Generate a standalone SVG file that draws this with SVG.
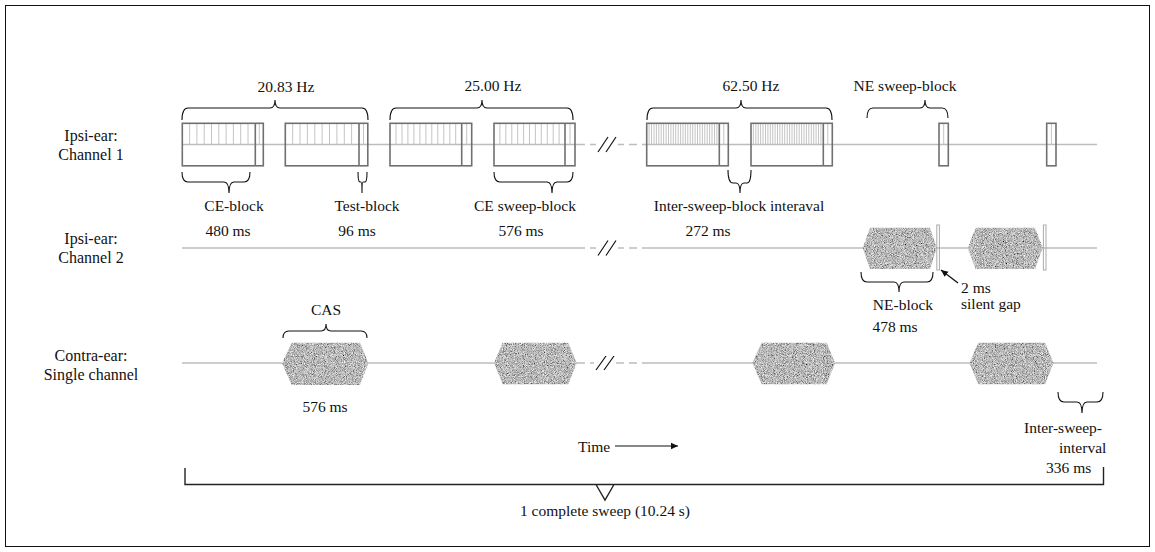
<svg xmlns="http://www.w3.org/2000/svg" width="1155" height="552" viewBox="0 0 1155 552">
<style>
text{font-family:"Liberation Serif","Times New Roman",serif;font-size:15.5px;fill:#111}
.lab{font-size:16px;text-anchor:middle}
.c{text-anchor:middle}
.ch{stroke:#bdbdbd;stroke-width:1.6;fill:none}
.dash{stroke:#bdbdbd;stroke-width:1.6;fill:none;stroke-dasharray:8 5}
.blk{fill:none;stroke:#707070;stroke-width:1.6}
.tk{stroke:#bdbdbd;stroke-width:0.9;fill:none}
.br{fill:none;stroke:#111;stroke-width:1.1}
.sl{stroke:#111;stroke-width:1.2}
.gap{fill:none;stroke:#aaa;stroke-width:1}
.hex{fill:#000;filter:url(#noise)}
</style>
<defs>
<filter id="noise" x="0" y="0" width="1" height="1">
<feTurbulence type="fractalNoise" baseFrequency="1.1" numOctaves="2" seed="4" result="t"/>
<feColorMatrix in="t" type="matrix" values="1.3 0 0 0 -0.17  1.3 0 0 0 -0.17  1.3 0 0 0 -0.17  0 0 0 0 1" result="g"/>
<feComposite in="g" in2="SourceGraphic" operator="in"/>
</filter>
<marker id="ah" markerWidth="8" markerHeight="8" refX="7" refY="4" orient="auto" markerUnits="userSpaceOnUse">
<path d="M0,0.8 L7,4 L0,7.2 z" fill="#111"/>
</marker>
</defs>
<rect x="5.5" y="5.5" width="1144" height="541" fill="#fff" stroke="#111" stroke-width="1"/>

<g id="labels">
<text class="lab" x="91" y="141">Ipsi-ear:</text>
<text class="lab" x="91" y="160">Channel 1</text>
<text class="lab" x="91" y="244">Ipsi-ear:</text>
<text class="lab" x="91" y="263">Channel 2</text>
<text class="lab" x="91" y="361">Contra-ear:</text>
<text class="lab" x="91" y="380">Single channel</text>
</g>

<g id="connectors">
<path class="ch" d="M182 144.5 H577 M647 144.5 H1097"/>
<path class="dash" d="M577 144.5 H647"/>
<path class="ch" d="M182 248 H577 M647 248 H1097"/>
<path class="dash" d="M577 248 H647"/>
<path class="ch" d="M182 363 H577 M647 363 H1097"/>
<path class="dash" d="M577 363 H647"/>
<rect x="596" y="135" width="22" height="20" fill="#fff"/>
<rect x="596" y="239" width="22" height="20" fill="#fff"/>
<rect x="594" y="354" width="22" height="20" fill="#fff"/>
<path class="sl" d="M598 152 L608 137 M606 152 L616 137"/>
<path class="sl" d="M598 255.5 L608 240.5 M606 255.5 L616 240.5"/>
<path class="sl" d="M596 370 L606 356 M604 370 L614 356"/>
<path class="br" d="M182 120 Q182 108 188 108 H270 Q275 108 275 100 Q275 108 280 108 H362 Q368 108 368 120"/>
<path class="br" d="M390 120 Q390 108 396 108 H477 Q482 108 482 100 Q482 108 487 108 H567 Q573 108 573 120"/>
<path class="br" d="M647 120 Q647 108 653 108 H736 Q741 108 741 100 Q741 108 746 108 H826 Q832 108 832 120"/>
<path class="br" d="M867 118 Q867 108 873 108 H920 Q925 108 925 100 Q925 108 930 108 H942 Q948 108 948 118"/>
<path class="br" d="M283 338 Q283 331 289 331 H321 Q326 331 326 324 Q326 331 331 331 H361 Q367 331 367 338"/>
<path class="br" d="M182 172 Q182 182 188 182 H224 Q229 182 229 193 Q229 182 234 182 H244 Q250 182 250 172"/>
<path class="br" d="M358 172 Q358 182 360 182 H361 Q362 182 362 193 Q362 182 363 182 H365 Q367 182 367 172"/>
<path class="br" d="M494 172 Q494 182 500 182 H547 Q552 182 552 193 Q552 182 557 182 H567 Q573 182 573 172"/>
<path class="br" d="M728 170 Q728 183 733 183 H736 Q740 183 740 193 Q740 183 744 183 H747 Q751 183 751 170"/>
<path class="br" d="M861 272 Q861 282 867 282 H894 Q899 282 899 292 Q899 282 904 282 H927 Q933 282 933 272"/>
<path class="br" d="M1058 392 Q1058 402 1064 402 H1077 Q1082 402 1082 413 Q1082 402 1087 402 H1097 Q1103 402 1103 392"/>
<line x1="958" y1="283" x2="941" y2="270" stroke="#111" stroke-width="1.3" marker-end="url(#ah)"/>
<line x1="615" y1="446" x2="678" y2="446" stroke="#111" stroke-width="1.1" marker-end="url(#ah)"/>
<path fill="none" stroke="#222" stroke-width="1.4" d="M185 468 V484.5 H1103.5 V467 M596 484.5 L605 500 L614 484.5"/>
</g>

<g id="ch1-blocks">
<path class="tk" d="M189.6 123.5V144M196.9 123.5V144M204.2 123.5V144M211.5 123.5V144M218.8 123.5V144M226.1 123.5V144M233.4 123.5V144M240.7 123.5V144M248 123.5V144M259.3 123.5V144
M292.7 123.5V144M300 123.5V144M307.4 123.5V144M314.8 123.5V144M322.1 123.5V144M329.5 123.5V144M336.9 123.5V144M344.3 123.5V144M351.6 123.5V144M363.5 123.5V144
M396 123.5V144M402 123.5V144M407.9 123.5V144M413.9 123.5V144M419.9 123.5V144M425.9 123.5V144M431.8 123.5V144M437.8 123.5V144M443.8 123.5V144M449.8 123.5V144M455.7 123.5V144M466.7 123.5V144
M499.9 123.5V144M505.8 123.5V144M511.8 123.5V144M517.7 123.5V144M523.6 123.5V144M529.5 123.5V144M535.4 123.5V144M541.3 123.5V144M547.3 123.5V144M553.2 123.5V144M559.1 123.5V144M570 123.5V144
M649.1 123.5V144M651.5 123.5V144M654 123.5V144M656.4 123.5V144M658.8 123.5V144M661.2 123.5V144M663.6 123.5V144M666.1 123.5V144M668.5 123.5V144M670.9 123.5V144M673.3 123.5V144M675.7 123.5V144M678.2 123.5V144M680.6 123.5V144M683 123.5V144M685.4 123.5V144M687.8 123.5V144M690.3 123.5V144M692.7 123.5V144M695.1 123.5V144M697.5 123.5V144M699.9 123.5V144M702.4 123.5V144M704.8 123.5V144M707.2 123.5V144M709.6 123.5V144M712 123.5V144M714.5 123.5V144M716.9 123.5V144M723.8 123.5V144
M753.4 123.5V144M755.8 123.5V144M758.2 123.5V144M760.6 123.5V144M763 123.5V144M765.5 123.5V144M767.9 123.5V144M770.3 123.5V144M772.7 123.5V144M775.1 123.5V144M777.5 123.5V144M779.9 123.5V144M782.3 123.5V144M784.7 123.5V144M787.2 123.5V144M789.6 123.5V144M792 123.5V144M794.4 123.5V144M796.8 123.5V144M799.2 123.5V144M801.6 123.5V144M804 123.5V144M806.4 123.5V144M808.8 123.5V144M811.3 123.5V144M813.7 123.5V144M816.1 123.5V144M818.5 123.5V144M820.9 123.5V144M827.8 123.5V144
M943.7 123.5V144M1051.4 123.5V144"/>
<rect class="blk" x="182.3" y="123.3" width="81" height="42.5"/><line class="blk" x1="255.3" y1="123.3" x2="255.3" y2="165.8"/>
<rect class="blk" x="285.3" y="123.3" width="82.5" height="42.5"/><line class="blk" x1="359" y1="123.3" x2="359" y2="165.8"/>
<rect class="blk" x="390" y="123.3" width="81.7" height="42.5"/><line class="blk" x1="461.7" y1="123.3" x2="461.7" y2="165.8"/>
<rect class="blk" x="494" y="123.3" width="81" height="42.5"/><line class="blk" x1="565" y1="123.3" x2="565" y2="165.8"/>
<rect class="blk" x="646.7" y="123.3" width="81.6" height="42.5"/><line class="blk" x1="719.3" y1="123.3" x2="719.3" y2="165.8"/>
<rect class="blk" x="751" y="123.3" width="81.3" height="42.5"/><line class="blk" x1="823.3" y1="123.3" x2="823.3" y2="165.8"/>
<rect class="blk" x="939" y="123.3" width="9.3" height="42.5"/>
<rect class="blk" x="1046.7" y="123.3" width="9.3" height="42.5"/>
</g>

<g id="ch2-blocks">
<polygon class="hex" points="862.7,248 870,227.7 930,227.7 936.7,248 930,269 870,269"/>
<polygon class="hex" points="967.7,248 975.7,227.7 1035,227.7 1042.7,248 1035,269 975.7,269"/>
<rect class="gap" x="936.8" y="225" width="2.6" height="45"/>
<rect class="gap" x="1043.4" y="225" width="2.6" height="45"/>
</g>

<g id="contra-blocks">
<polygon class="hex" points="282,363 291.7,342.7 360,342.7 368.3,363 360,385 291.7,385"/>
<polygon class="hex" points="494,363 502.7,342.7 568.3,342.7 576.7,363 568.3,384.3 502.7,384.3"/>
<polygon class="hex" points="752.3,363 761.7,342.7 826.7,342.7 835,363 826.7,384.3 761.7,384.3"/>
<polygon class="hex" points="969.5,363 978.3,342.7 1045,342.7 1053.5,363 1045,384.3 978.3,384.3"/>
</g>

<g id="annotations">
<text class="c" x="286" y="92">20.83 Hz</text>
<text class="c" x="493" y="91">25.00 Hz</text>
<text class="c" x="751" y="91">62.50 Hz</text>
<text class="c" x="905" y="91">NE sweep-block</text>
<text class="c" x="234" y="211">CE-block</text>
<text class="c" x="367" y="211">Test-block</text>
<text class="c" x="525" y="211">CE sweep-block</text>
<text class="c" x="739" y="211">Inter-sweep-block interaval</text>
<text class="c" x="228" y="236">480 ms</text>
<text class="c" x="357" y="236">96 ms</text>
<text class="c" x="521" y="236">576 ms</text>
<text class="c" x="708" y="236">272 ms</text>
<text class="c" x="903" y="310">NE-block</text>
<text class="c" x="895" y="332">478 ms</text>
<text x="961" y="293">2 ms</text>
<text x="961" y="309">silent gap</text>
<text class="c" x="326" y="315">CAS</text>
<text class="c" x="325" y="412">576 ms</text>
<text x="1024" y="433">Inter-sweep-</text>
<text x="1059" y="453">interval</text>
<text x="1046" y="473">336 ms</text>
<text x="578" y="452">Time</text>
<text class="c" x="605" y="516">1 complete sweep (10.24 s)</text>
</g>
</svg>
